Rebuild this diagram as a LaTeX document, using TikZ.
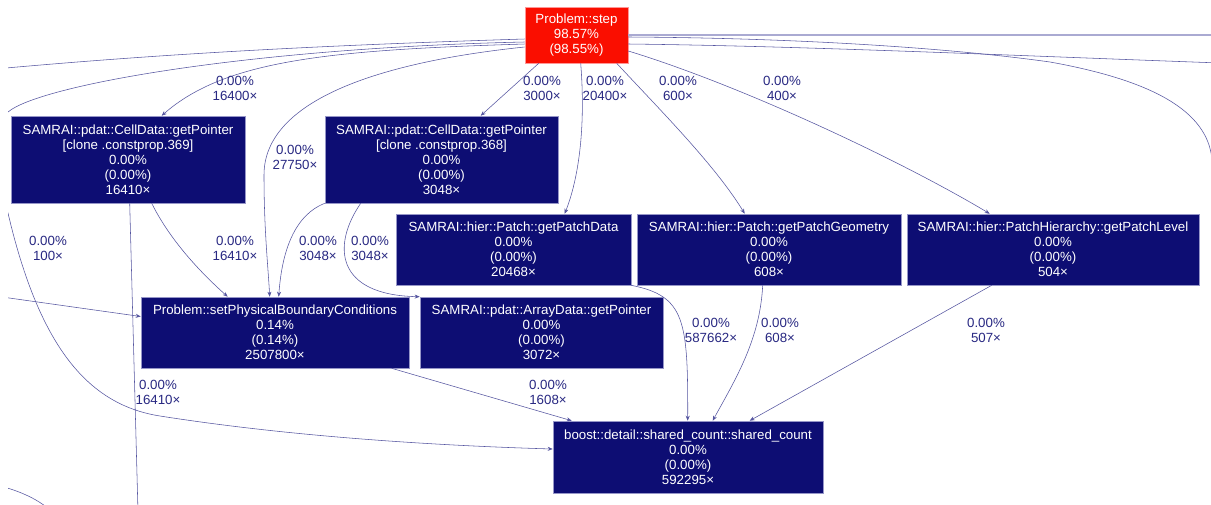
\documentclass[tikz,border=0pt]{standalone}
\usepackage{fontspec}
\setmainfont{Liberation Sans}
\usetikzlibrary{calc,arrows.meta}
\definecolor{nodefill}{RGB}{13,13,115}
\definecolor{nodeborder}{RGB}{150,150,200}
\definecolor{hotfill}{RGB}{250,14,0}
\definecolor{hotborder}{RGB}{255,150,150}
\definecolor{edgecol}{RGB}{85,85,160}
\definecolor{paleedge}{RGB}{170,170,210}
\definecolor{labcol}{RGB}{40,40,130}
\tikzset{
  fn/.style={draw=nodeborder, fill=nodefill, text=white, align=center,
    font=\fontsize{13.3}{15}\selectfont, inner sep=0pt, line width=0.6pt},
  hot/.style={fn, fill=hotfill, draw=hotborder},
  call/.style={draw=edgecol, line width=0.55pt, -{Stealth[length=5pt,width=4pt]}},
  offcall/.style={draw=edgecol, line width=0.55pt},
  paleline/.style={draw=paleedge, line width=1.1pt},
  elabel/.style={text=labcol, align=center, font=\fontsize{13.3}{15}\selectfont, inner sep=0pt},
}
\begin{document}
\begin{tikzpicture}[x=1pt,y=-1pt]
\useasboundingbox (0,0) rectangle (1211,504);
\fill[white] (0,0) rectangle (1211,504);
\begin{scope}
\clip (8,0) rectangle (1211,504);

% nodes
\node[hot, minimum width=103pt, minimum height=56pt] (step) at (576.5,35) {Problem::step\\98.57\%\\(98.55\%)};
\node[fn, minimum width=234pt, minimum height=87pt] (cd369) at (128,159.5) {SAMRAI::pdat::CellData::getPointer\\{}[clone .constprop.369]\\0.00\%\\(0.00\%)\\16410×};
\node[fn, minimum width=233pt, minimum height=87pt] (cd368) at (441.5,159.5) {SAMRAI::pdat::CellData::getPointer\\{}[clone .constprop.368]\\0.00\%\\(0.00\%)\\3048×};
\node[fn, minimum width=235pt, minimum height=71pt] (gpd) at (513.5,249.5) {SAMRAI::hier::Patch::getPatchData\\0.00\%\\(0.00\%)\\20468×};
\node[fn, minimum width=264pt, minimum height=71pt] (gpg) at (769,249.5) {SAMRAI::hier::Patch::getPatchGeometry\\0.00\%\\(0.00\%)\\608×};
\node[fn, minimum width=292pt, minimum height=71pt] (gpl) at (1053,249.5) {SAMRAI::hier::PatchHierarchy::getPatchLevel\\0.00\%\\(0.00\%)\\504×};
\node[fn, minimum width=268pt, minimum height=71pt] (spbc) at (275,332.5) {Problem::setPhysicalBoundaryConditions\\0.14\%\\(0.14\%)\\2507800×};
\node[fn, minimum width=243pt, minimum height=71pt] (arr) at (541.5,332.5) {SAMRAI::pdat::ArrayData::getPointer\\0.00\%\\(0.00\%)\\3072×};
\node[fn, minimum width=270pt, minimum height=72pt] (sc) at (688,457) {boost::detail::shared\_count::shared\_count\\0.00\%\\(0.00\%)\\592295×};

% off-picture ends
\coordinate (offL1) at (-5,69);
\coordinate (offL2) at (-5,296);
\coordinate (offB1) at (138,512);
\coordinate (offBL) at (0,486);
\coordinate (offBL2) at (52,512);
\coordinate (offR1) at (1220,35);
\coordinate (offR2) at (1212,160);
\coordinate (offR3) at (1220,63);

% edges from step
\draw[offcall] ($(step.west)+(0,4)$) .. controls (300,46) and (150,55) .. (offL1);
\draw[call] ($(step.west)+(0,9)$) .. controls (330,50) and (225,60) .. ($(cd369.north west)+(151,0)$);
\draw[call] ($(step.west)+(0,7)$) .. controls (250,48) and (40,85) .. (8,112)
   .. controls (-15,135) and (-5,190) .. (8,213)
   .. controls (40,350) and (90,405) .. (160,416)
   .. controls (300,438) and (450,446) .. ($(sc.west)+(0,-8)$);
\draw[call] ($(step.west)+(0,12)$) .. controls (380,62) and (264,100) .. (264,175)
   .. controls (264,230) and (268,265) .. ($(spbc.north west)+(129,0)$);
\draw[call] ($(step.south west)+(14,0)$) -- ($(cd368.north west)+(156,0)$);
\draw[call] ($(step.south west)+(56,0)$) .. controls (586,130) and (578,180) .. ($(gpd.north west)+(169,0)$);
\draw[call] ($(step.south west)+(92,0)$) .. controls (660,110) and (715,165) .. ($(gpg.north west)+(108,0)$);
\draw[call] ($(step.east)+(0,16)$) .. controls (740,85) and (900,160) .. ($(gpl.north west)+(83,0)$);
\draw[paleline] (step.east) -- (offR1);
\draw[offcall] ($(step.east)+(0,2)$) .. controls (800,38) and (950,48) .. (1050,62)
   .. controls (1150,80) and (1208,110) .. (offR2);
\draw[offcall] ($(step.east)+(0,9)$) .. controls (800,46) and (1000,55) .. (offR3);

% other edges
\draw[call] ($(cd369.south west)+(141,0)$) .. controls (170,240) and (200,272) .. ($(spbc.north west)+(87,0)$);
\draw[offcall] ($(cd369.south west)+(119,0)$) -- (offB1);
\draw[call] (cd368.south west) .. controls (295,215) and (282,250) .. ($(spbc.north west)+(138,0)$);
\draw[call] ($(cd368.south west)+(36,0)$) .. controls (332,245) and (335,295) .. (arr.north west);
\draw[call] (gpd.south east) .. controls (685,296) and (688,320) .. ($(sc.north west)+(135,0)$);
\draw[call] ($(gpg.south west)+(126,0)$) .. controls (760,340) and (735,380) .. ($(sc.north west)+(160,0)$);
\draw[call] ($(gpl.south west)+(85,0)$) -- ($(sc.north west)+(197,0)$);
\draw[call] ($(spbc.south west)+(251,0)$) -- ($(sc.north west)+(19,0)$);
\draw[call] (offL2) -- ($(spbc.west)+(0,-16)$);
\draw[offcall] (offBL) .. controls (20,491) and (40,500) .. (offBL2);

% edge labels
\node[elabel] (l16400) at (235,88) {0.00\%\\16400×};
\node[elabel] (l3000) at (542,88) {0.00\%\\3000×};
\node[elabel] (l20400) at (605,88) {0.00\%\\20400×};
\node[elabel] (l600) at (678,88) {0.00\%\\600×};
\node[elabel] (l400) at (782,88) {0.00\%\\400×};
\node[elabel] (l27750) at (295,157) {0.00\%\\27750×};
\node[elabel] (l100) at (48,248) {0.00\%\\100×};
\node[elabel] (l16410a) at (235,248) {0.00\%\\16410×};
\node[elabel] (l3048a) at (318,248) {0.00\%\\3048×};
\node[elabel] (l3048b) at (370,248) {0.00\%\\3048×};
\node[elabel] (l16410b) at (158,392) {0.00\%\\16410×};
\node[elabel] (l1608) at (548,392) {0.00\%\\1608×};
\node[elabel] (l587662) at (711,330) {0.00\%\\587662×};
\node[elabel] (l608) at (780,330) {0.00\%\\608×};
\node[elabel] (l507) at (986,330) {0.00\%\\507×};
\end{scope}
\end{tikzpicture}
\end{document}
